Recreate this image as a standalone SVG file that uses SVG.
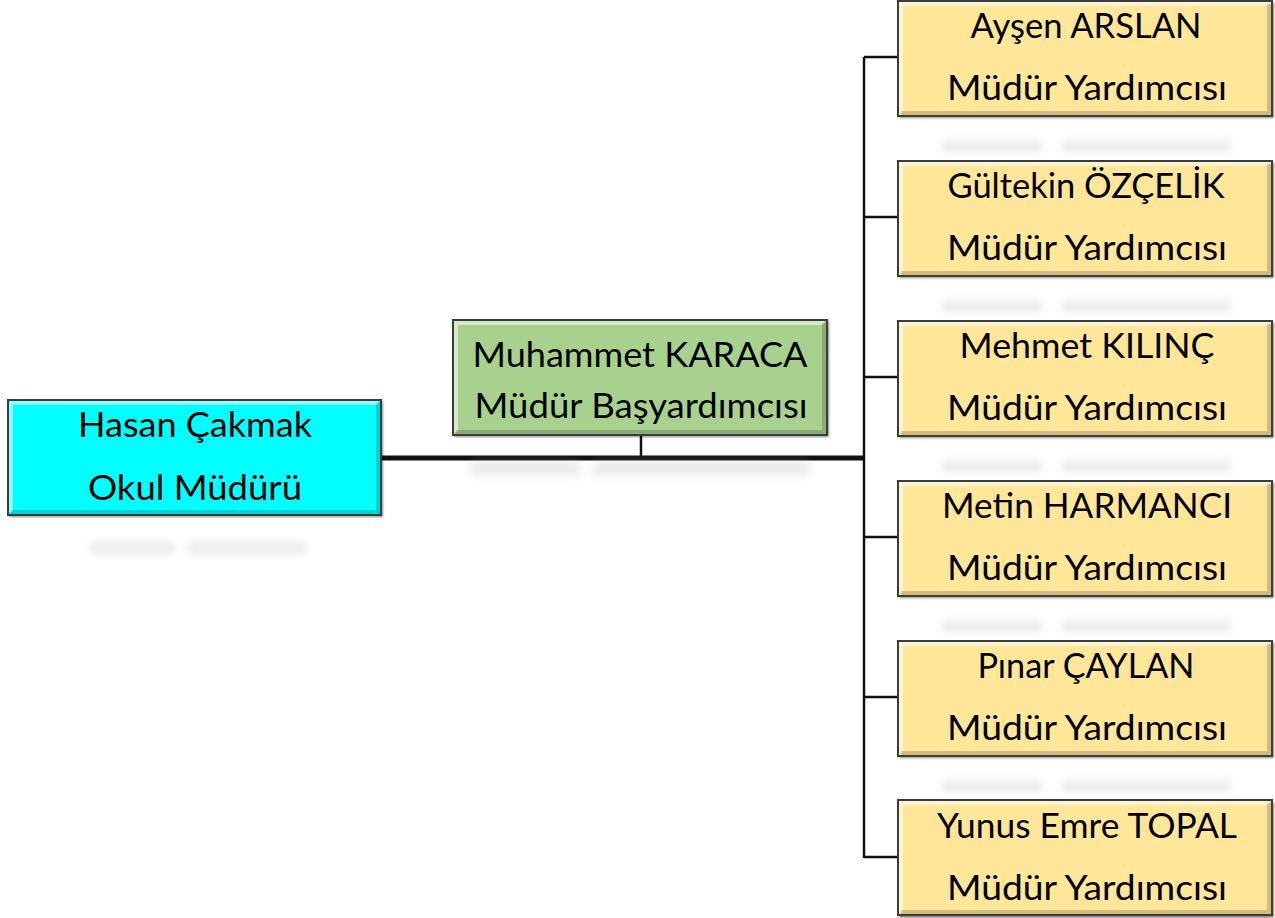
<svg xmlns="http://www.w3.org/2000/svg" width="1275" height="918" viewBox="0 0 1275 918">
<defs>
<filter id="sh" x="-5%" y="-5%" width="110%" height="110%"><feGaussianBlur stdDeviation="1.2"/></filter>
<filter id="rb" x="-10%" y="-150%" width="120%" height="400%"><feGaussianBlur stdDeviation="4"/></filter>
</defs>
<style>
.box{stroke:#3c3c3c;stroke-width:2}
.shadow{fill:#000;opacity:0.45;filter:url(#sh)}
.hl{fill:none;stroke:#fff;stroke-opacity:0.55;stroke-width:4}
.dk{fill:none;stroke:#000;stroke-opacity:0.18;stroke-width:4}
.refl{fill:#c4c4c4;opacity:0.35;filter:url(#rb)}
.t{font-family:Lato,"Open Sans",sans-serif;font-size:34px;fill:#000;text-anchor:middle}
.cn{fill:none;stroke:#111}
</style>
<rect width="1275" height="918" fill="#fff"/>

<g id="connectors">
<path class="cn" d="M382,458 H864" stroke-width="5"/>
<path class="cn" d="M641,436 V458" stroke-width="2.5"/>
<path class="cn" d="M864,57 V858" stroke-width="2.5"/>
<path class="cn" d="M864,57 H898 M864,217 H898 M864,377 H898 M864,537 H898 M864,697 H898 M864,857 H898" stroke-width="2.5"/>
</g>

<g id="reflections">
<rect class="refl" x="90" y="542" width="85" height="12"/><rect class="refl" x="188" y="542" width="118" height="12"/>
<rect class="refl" x="470" y="462" width="110" height="14"/><rect class="refl" x="592" y="462" width="218" height="14"/>
<rect class="refl" x="942" y="140" width="100" height="12"/><rect class="refl" x="1062" y="140" width="168" height="12"/>
<rect class="refl" x="942" y="300" width="100" height="12"/><rect class="refl" x="1062" y="300" width="168" height="12"/>
<rect class="refl" x="942" y="460" width="100" height="12"/><rect class="refl" x="1062" y="460" width="168" height="12"/>
<rect class="refl" x="942" y="620" width="100" height="12"/><rect class="refl" x="1062" y="620" width="168" height="12"/>
<rect class="refl" x="942" y="780" width="100" height="12"/><rect class="refl" x="1062" y="780" width="168" height="12"/>
</g>

<g id="n-hasan">
<rect class="shadow" x="9" y="401" width="374" height="116"/>
<rect class="box" x="8" y="400" width="373" height="115" fill="#00ffff"/>
<path class="hl" d="M11,512 V403 H378"/>
<path class="dk" d="M11,512 H378 V403"/>
<text class="t" x="195" y="437" textLength="234" lengthAdjust="spacingAndGlyphs">Hasan Çakmak</text>
<text class="t" x="195" y="500" textLength="214" lengthAdjust="spacingAndGlyphs">Okul Müdürü</text>
</g>

<g id="n-muhammet">
<rect class="shadow" x="454" y="321" width="375" height="116"/>
<rect class="box" x="453" y="320" width="374" height="115" fill="#a9d18e"/>
<path class="hl" d="M456,432 V323 H824"/>
<path class="dk" d="M456,432 H824 V323"/>
<text class="t" x="640" y="367" textLength="335" lengthAdjust="spacingAndGlyphs">Muhammet KARACA</text>
<text class="t" x="641" y="418" textLength="333" lengthAdjust="spacingAndGlyphs">Müdür Başyardımcısı</text>
</g>

<g id="n-aysen">
<rect class="shadow" x="899" y="2" width="375" height="116"/>
<rect class="box" x="898" y="1" width="374" height="115" fill="#ffe699"/>
<path class="hl" d="M901,113 V4 H1269"/>
<path class="dk" d="M901,113 H1269 V4"/>
<text class="t" x="1086" y="38" textLength="231" lengthAdjust="spacingAndGlyphs">Ayşen ARSLAN</text>
<text class="t" x="1087" y="100" textLength="280" lengthAdjust="spacingAndGlyphs">Müdür Yardımcısı</text>
</g>

<g id="n-gultekin">
<rect class="shadow" x="899" y="162" width="375" height="116"/>
<rect class="box" x="898" y="161" width="374" height="115" fill="#ffe699"/>
<path class="hl" d="M901,273 V164 H1269"/>
<path class="dk" d="M901,273 H1269 V164"/>
<text class="t" x="1086" y="198" textLength="277" lengthAdjust="spacingAndGlyphs">Gültekin ÖZÇELİK</text>
<text class="t" x="1087" y="260" textLength="280" lengthAdjust="spacingAndGlyphs">Müdür Yardımcısı</text>
</g>

<g id="n-mehmet">
<rect class="shadow" x="899" y="322" width="375" height="116"/>
<rect class="box" x="898" y="321" width="374" height="115" fill="#ffe699"/>
<path class="hl" d="M901,433 V324 H1269"/>
<path class="dk" d="M901,433 H1269 V324"/>
<text class="t" x="1087" y="358" textLength="255" lengthAdjust="spacingAndGlyphs">Mehmet KILINÇ</text>
<text class="t" x="1087" y="420" textLength="280" lengthAdjust="spacingAndGlyphs">Müdür Yardımcısı</text>
</g>

<g id="n-metin">
<rect class="shadow" x="899" y="482" width="375" height="116"/>
<rect class="box" x="898" y="481" width="374" height="115" fill="#ffe699"/>
<path class="hl" d="M901,593 V484 H1269"/>
<path class="dk" d="M901,593 H1269 V484"/>
<text class="t" x="1087" y="518" textLength="290" lengthAdjust="spacingAndGlyphs">Metin HARMANCI</text>
<text class="t" x="1087" y="580" textLength="280" lengthAdjust="spacingAndGlyphs">Müdür Yardımcısı</text>
</g>

<g id="n-pinar">
<rect class="shadow" x="899" y="642" width="375" height="116"/>
<rect class="box" x="898" y="641" width="374" height="115" fill="#ffe699"/>
<path class="hl" d="M901,753 V644 H1269"/>
<path class="dk" d="M901,753 H1269 V644"/>
<text class="t" x="1086" y="678" textLength="217" lengthAdjust="spacingAndGlyphs">Pınar ÇAYLAN</text>
<text class="t" x="1087" y="740" textLength="280" lengthAdjust="spacingAndGlyphs">Müdür Yardımcısı</text>
</g>

<g id="n-yunus">
<rect class="shadow" x="899" y="802" width="375" height="116"/>
<rect class="box" x="898" y="800" width="374" height="115" fill="#ffe699"/>
<path class="hl" d="M901,912 V803 H1269"/>
<path class="dk" d="M901,912 H1269 V803"/>
<text class="t" x="1087" y="838" textLength="300" lengthAdjust="spacingAndGlyphs">Yunus Emre TOPAL</text>
<text class="t" x="1087" y="900" textLength="280" lengthAdjust="spacingAndGlyphs">Müdür Yardımcısı</text>
</g>
</svg>
